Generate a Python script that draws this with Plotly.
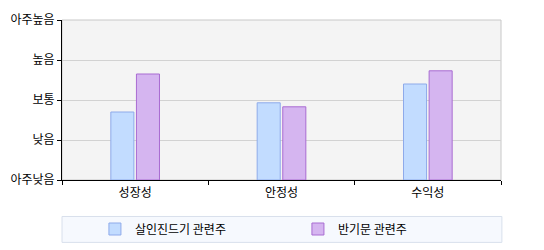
import plotly.graph_objects as go

categories = ["성장성", "안정성", "수익성"]
series_names = ["살인진드기 관련주", "반기문 관련주"]
tick_values = [0, 1, 2, 3, 4]
tick_labels = ["아주낮음", "낮음", "보통", "높음", "아주높음"]
values_a = [1.7, 1.93, 2.4]
values_b = [2.65, 1.83, 2.73]

FONT = "Noto Sans CJK KR"

fig = go.Figure()
fig.add_trace(go.Bar(
    x=categories, y=values_a, name=series_names[0],
    marker=dict(color="#c2dcff", line=dict(color="#8eaaea", width=1)),
))
fig.add_trace(go.Bar(
    x=categories, y=values_b, name=series_names[1],
    marker=dict(color="#d5b5f0", line=dict(color="#a96cd2", width=1)),
))

fig.update_layout(
    width=544, height=250,
    margin=dict(l=62, r=43, t=20, b=70, pad=0, autoexpand=False),
    paper_bgcolor="white",
    plot_bgcolor="#f4f4f4",
    barmode="group",
    bargap=0.65,
    bargroupgap=0.1,
    font=dict(family=FONT, size=12, color="black"),
    showlegend=True,
    legend=dict(
        orientation="h",
        xref="paper", x=0.075, xanchor="left",
        yref="container", y=0.084, yanchor="middle",
        bgcolor="rgba(0,0,0,0)",
        entrywidth=158, entrywidthmode="pixels",
        font=dict(family=FONT, size=12, color="black"),
        itemclick=False, itemdoubleclick=False,
    ),
    shapes=[
        dict(type="rect", xref="paper", yref="paper", x0=0, x1=1, y0=0, y1=1,
             line=dict(color="#c8c8c8", width=1), layer="below"),
        dict(type="rect", xref="paper", yref="paper", x0=0.0, x1=1.002, y0=-0.228, y1=-0.39,
             line=dict(color="#d8e0ec", width=1), fillcolor="#f6f9fe", layer="below"),
    ],
)

fig.update_xaxes(
    type="category", automargin=False,
    showline=True, linecolor="black", linewidth=1,
    ticks="outside", tickson="boundaries", ticklen=4, tickcolor="black",
    ticklabelstandoff=2,
    showgrid=False,
    tickfont=dict(family=FONT, size=12, color="black"),
)
fig.update_yaxes(
    range=[0, 4], automargin=False,
    tickmode="array", tickvals=tick_values, ticktext=tick_labels,
    showline=True, linecolor="black", linewidth=1,
    ticks="outside", ticklen=4, tickcolor="black",
    showgrid=True, gridcolor="#d2d2d2", gridwidth=1,
    zeroline=False,
    tickfont=dict(family=FONT, size=12, color="black"),
)

fig.write_html("out.html")
